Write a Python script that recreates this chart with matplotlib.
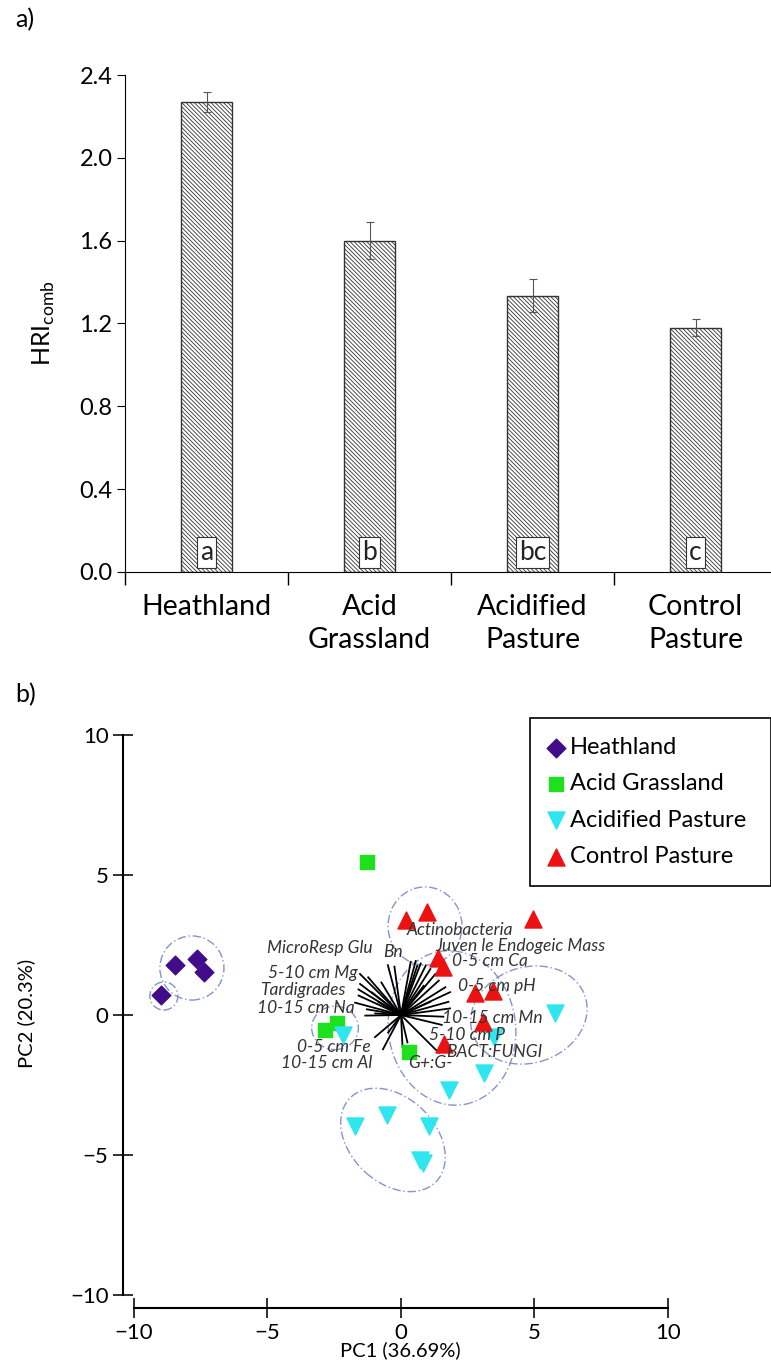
import matplotlib
matplotlib.use('Agg')
import matplotlib.pyplot as plt
from matplotlib.patches import Ellipse

plt.rcParams['font.family'] = ['Lato', 'DejaVu Sans']
plt.rcParams['hatch.linewidth'] = 0.6

# panel a data
habitats = ['Heathland', 'Acid\nGrassland', 'Acidified\nPasture', 'Control\nPasture']
hri_mean = [2.27, 1.60, 1.335, 1.18]
hri_err = [0.05, 0.09, 0.08, 0.04]
letters = ['a', 'b', 'bc', 'c']
yticks_a = [0.0, 0.4, 0.8, 1.2, 1.6, 2.0, 2.4]

# panel b data (PCA scores)
heath_x = [-8.46, -7.64, -7.38, -8.99]
heath_y = [1.79, 2.0, 1.54, 0.71]
grass_x = [-1.27, -2.85, -2.4, 0.3]
grass_y = [5.46, -0.54, -0.29, -1.32]
acidp_x = [-2.17, 5.77, 3.48, 3.11, 1.8, -1.72, -0.52, 1.05, 0.82, 0.71]
acidp_y = [-0.71, 0.07, -0.79, -2.07, -2.68, -3.96, -3.57, -3.96, -5.29, -5.18]
ctrl_x = [5.84, 4.94, 0.19, 0.97, 1.39, 1.57, 2.77, 3.45, 3.07, 1.61]
ctrl_y = [7.14, 3.43, 3.39, 3.68, 2.04, 1.71, 0.79, 0.86, -0.25, -1.04]

# loading vectors
load_x = [-1.56, -1.25, -1.56, -1.62, -1.62, -1.75, -1.31, -1.37, -1.0, -0.5,
          -0.25, 0.37, 0.56, 0.75, 0.94, 1.12, 1.31, 1.44, 1.69, 1.87,
          1.81, 1.87, 1.62, 1.56, 1.44, 0.06, 0.25, -0.69, -1.0, -0.5,
          0.62, 0.87, 1.12, -1.12, -0.87, -0.75]
load_y = [1.49, 1.37, 1.13, 0.93, 0.71, 0.45, 0.21, -0.02, 0.06, 1.81,
          1.76, 1.93, 1.96, 1.87, 1.79, 1.67, 1.49, 1.25, 1.01, 0.83,
          0.48, 0.24, -0.06, -0.36, -1.37, -1.19, -1.01, -1.25, -0.81, -0.65,
          1.79, 1.07, 0.48, 0.83, 0.48, 1.19]

var_names = ['MicroResp Glu', 'Bn', 'Actinobacteria', 'Juven le Endogeic Mass',
             '0-5 cm Ca', '5-10 cm Mg', 'Tardigrades', '10-15 cm Na', '0-5 cm pH',
             '10-15 cm Mn', '5-10 cm P', 'BACT:FUNGI', 'G+:G-', '0-5 cm Fe',
             '10-15 cm Al']
var_x = [-3.03, -0.3, 2.21, 4.49, 3.33, -3.3, -3.67, -3.56, 3.6, 3.41, 2.47,
         3.48, 1.09, -2.51, -2.77]
var_y = [2.39, 2.25, 3.05, 2.45, 1.93, 1.5, 0.89, 0.25, 1.04, -0.11, -0.71,
         -1.32, -1.71, -1.14, -1.71]

# group ellipses: centre x, centre y, width, height, angle
ell_cx = [-7.83, -8.88, -2.47, 0.9, 1.91, 4.79, -0.3]
ell_cy = [1.68, 0.68, -0.46, 3.18, -0.46, 0.0, -4.46]
ell_w = [2.4, 1.05, 1.75, 2.77, 4.76, 4.42, 4.4]
ell_h = [2.29, 1.0, 1.55, 2.79, 5.54, 3.43, 3.1]
ell_ang = [0, 0, 0, 0, 10, 15, -40]

fig = plt.figure(figsize=(7.71, 13.66), dpi=100)

# ---- panel a ----
ax1 = fig.add_axes([125 / 771, 1 - 572 / 1366, 652 / 771, 497 / 1366])
pos = list(range(len(habitats)))
ax1.bar(pos, hri_mean, width=0.315, color='white', edgecolor='#333333',
        hatch='\\' * 8, linewidth=1, yerr=hri_err,
        error_kw=dict(ecolor='#555555', elinewidth=0.8, capsize=3, capthick=0.8))
for i, lt in enumerate(letters):
    ax1.text(pos[i], 0.095, lt, ha='center', va='center', fontsize=19, color='#222222',
             bbox=dict(boxstyle='square,pad=0.12', fc='white', ec='#333333', lw=0.8))
ax1.set_xlim(-0.5, 3.5)
ax1.set_ylim(0, 2.4)
for s in ['top', 'right']:
    ax1.spines[s].set_visible(False)
ax1.set_yticks(yticks_a)
ax1.set_yticklabels(['%.1f' % v for v in yticks_a])
ax1.set_xticks([-0.5, 0.5, 1.5, 2.5])
ax1.set_xticklabels([])
ax1.set_xticks(pos, minor=True)
ax1.set_xticklabels(habitats, minor=True, linespacing=1.3)
ax1.tick_params(axis='x', which='major', direction='out', length=9, width=1)
ax1.tick_params(axis='x', which='minor', length=0, pad=16, labelsize=20.5)
ax1.tick_params(axis='y', direction='out', length=6, labelsize=17, pad=3)
ax1.set_ylabel('HRI$_{\\mathregular{comb}}$', fontsize=18)
ax1.yaxis.set_label_coords(-0.104, 0.5)
fig.text(15 / 771, 1 - 20 / 1366, 'a)', fontsize=18, va='center')

# ---- panel b ----
ax2 = fig.add_axes([120 / 771, 46 / 1366, 651 / 771, 620 / 1366])
ax2.set_xlim(-10.524, 13.858)
ax2.set_ylim(-10.89, 11.25)

for cx, cy, w, h, a in zip(ell_cx, ell_cy, ell_w, ell_h, ell_ang):
    ax2.add_patch(Ellipse((cx, cy), w, h, angle=a, fill=False, ec='#8595cc',
                          lw=1.0, ls=(0, (6, 2, 1, 2))))

for lx, ly in zip(load_x, load_y):
    ax2.plot([0, lx], [0, ly], color='black', lw=1.3, solid_capstyle='butt')

ax2.scatter(heath_x, heath_y, marker='D', s=90, color='#400c8a', label='Heathland', zorder=3)
ax2.scatter(grass_x, grass_y, marker='s', s=110, color='#1ee01e', label='Acid Grassland', zorder=3)
ax2.scatter(acidp_x, acidp_y, marker='v', s=150, color='#2ee6f0', label='Acidified Pasture', zorder=3)
ax2.scatter(ctrl_x, ctrl_y, marker='^', s=150, color='#ee1111', label='Control Pasture', zorder=3)

for name, tx, ty in zip(var_names, var_x, var_y):
    ax2.text(tx, ty, name, ha='center', va='center', fontsize=12.5, style='italic',
             color='#333333', zorder=4)

for s in ['top', 'right']:
    ax2.spines[s].set_visible(False)
ax2.spines['left'].set_position(('data', -10.41))
ax2.spines['left'].set_bounds(-10, 10)
ax2.spines['bottom'].set_position(('data', -10.46))
ax2.spines['bottom'].set_bounds(-10, 10)
for s in ['left', 'bottom']:
    ax2.spines[s].set_linewidth(1.5)
ax2.set_xticks([-10, -5, 0, 5, 10])
ax2.set_yticks([-10, -5, 0, 5, 10])
ax2.tick_params(direction='inout', length=14, width=1.3, labelsize=16, color='#222222')
ax2.set_xlabel('PC1 (36.69%)', fontsize=14.5)
ax2.xaxis.set_label_coords(0.43, -0.035)
ax2.set_ylabel('PC2 (20.3%)', fontsize=14.5)
ax2.yaxis.set_label_coords(-0.13, 0.495)

leg = ax2.legend(loc='upper left', bbox_to_anchor=(0.63, 0.682, 0.37, 0.289), mode='expand',
                 fontsize=17, labelspacing=0.65, handlelength=0.6, handletextpad=0.3,
                 borderaxespad=0, borderpad=0.8, fancybox=False, edgecolor='black',
                 framealpha=1)
leg.get_frame().set_linewidth(1.2)
fig.text(15 / 771, 1 - 695 / 1366, 'b)', fontsize=18, va='center')

fig.savefig('out.png', dpi=100)
